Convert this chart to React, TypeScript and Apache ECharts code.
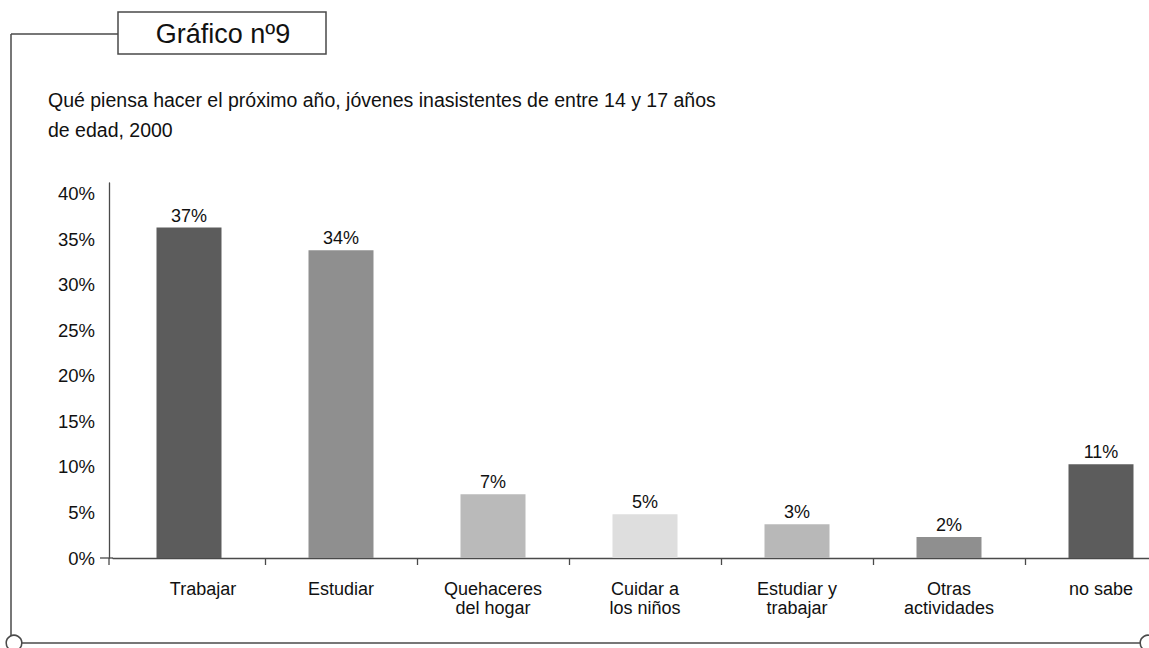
import React, { useEffect, useRef } from "react";
import * as echarts from "echarts";

const categories = [
  "Trabajar",
  "Estudiar",
  "Quehaceres\ndel hogar",
  "Cuidar a\nlos niños",
  "Estudiar y\ntrabajar",
  "Otras\nactividades",
  "no sabe",
];
const values = [36.3, 33.8, 7.0, 4.8, 3.7, 2.3, 10.3];
const valueLabels = ["37%", "34%", "7%", "5%", "3%", "2%", "11%"];
const barColors = ["#5c5c5c", "#8f8f8f", "#bababa", "#dedede", "#b8b8b8", "#8f8f8f", "#5c5c5c"];
const yTicks = [0, 5, 10, 15, 20, 25, 30, 35, 40];
const titleText = "Qué piensa hacer el próximo año, jóvenes inasistentes de entre 14 y 17 años\nde edad, 2000";
const boxText = "Gráfico nº9";

const FONT = "Liberation Sans, Arial, sans-serif";
const LINE = "#4a4a4a";

export default function App() {
  const ref = useRef<HTMLDivElement>(null);
  useEffect(() => {
    if (!ref.current) return;
    const chart = echarts.init(ref.current, null, { renderer: "svg" });
    chart.setOption({
      animation: false,
      backgroundColor: "#ffffff",
      textStyle: { fontFamily: FONT },
      title: {
        text: titleText,
        left: 43,
        top: 80,
        textStyle: { fontFamily: FONT, fontSize: 19.5, fontWeight: "normal", color: "#111", lineHeight: 30 },
      },
      grid: { left: 113, top: 183, right: -28, bottom: 90, containLabel: false, outerBoundsMode: "none" },
      xAxis: {
        type: "category",
        data: categories.map((c, i) =>
          i === 0 ? { value: c, textStyle: { padding: [0, 0, 0, 28] } } : c
        ),
        axisLine: { show: true, lineStyle: { color: LINE, width: 1.3 } },
        axisTick: {
          show: true,
          length: 7,
          lineStyle: { color: LINE, width: 1.3 },
          interval: (index: number) => index !== 0,
        },
        axisLabel: { interval: 0, margin: 21, fontSize: 18, lineHeight: 19, color: "#111", fontFamily: FONT },
      },
      yAxis: {
        type: "value",
        min: 0,
        max: 41.2,
        interval: 5,
        offset: 4,
        axisLine: { show: true, lineStyle: { color: LINE, width: 1.3 } },
        axisTick: { show: false },
        splitLine: { show: false },
        axisLabel: {
          margin: 14,
          fontSize: 18.5,
          color: "#111",
          fontFamily: FONT,
          formatter: (v: number) => (yTicks.indexOf(v) >= 0 ? v + "%" : ""),
        },
      },
      series: [
        {
          type: "bar",
          barWidth: 65,
          data: values.map((v, i) => ({ value: v, itemStyle: { color: barColors[i] } })),
          label: {
            show: true,
            position: "top",
            distance: 3,
            fontSize: 18,
            color: "#111",
            fontFamily: FONT,
            formatter: (p: any) => valueLabels[p.dataIndex],
          },
        },
      ],
      graphic: [
        { type: "line", shape: { x1: 11, y1: 34, x2: 118, y2: 34 }, style: { stroke: LINE, lineWidth: 1.5 } },
        { type: "line", shape: { x1: 11, y1: 34, x2: 11, y2: 636 }, style: { stroke: LINE, lineWidth: 1.5 } },
        { type: "rect", shape: { x: 118, y: 12, width: 208, height: 42 }, style: { stroke: LINE, lineWidth: 1.5, fill: "#fff" } },
        {
          type: "text",
          x: 223,
          y: 34,
          style: { text: boxText, fontSize: 27, fontFamily: FONT, fill: "#111", align: "center", verticalAlign: "middle" },
        },
        { type: "line", shape: { x1: 21.5, y1: 643, x2: 1140, y2: 643 }, style: { stroke: LINE, lineWidth: 1.5 } },
        { type: "circle", shape: { cx: 14, cy: 643, r: 7.8 }, style: { stroke: LINE, lineWidth: 1.5, fill: "#fff" } },
        { type: "circle", shape: { cx: 1148, cy: 643, r: 7.8 }, style: { stroke: LINE, lineWidth: 1.5, fill: "#fff" } },
        { type: "line", shape: { x1: 100, y1: 558, x2: 113, y2: 558 }, style: { stroke: LINE, lineWidth: 1.3 } },
        { type: "line", shape: { x1: 109, y1: 558, x2: 109, y2: 565 }, style: { stroke: LINE, lineWidth: 1.3 } },
      ],
    });
    return () => chart.dispose();
  }, []);
  return (
    <div
      ref={ref}
      style={{ position: "absolute", left: 0, top: 0, width: 1149, height: 648, background: "#fff" }}
    />
  );
}
